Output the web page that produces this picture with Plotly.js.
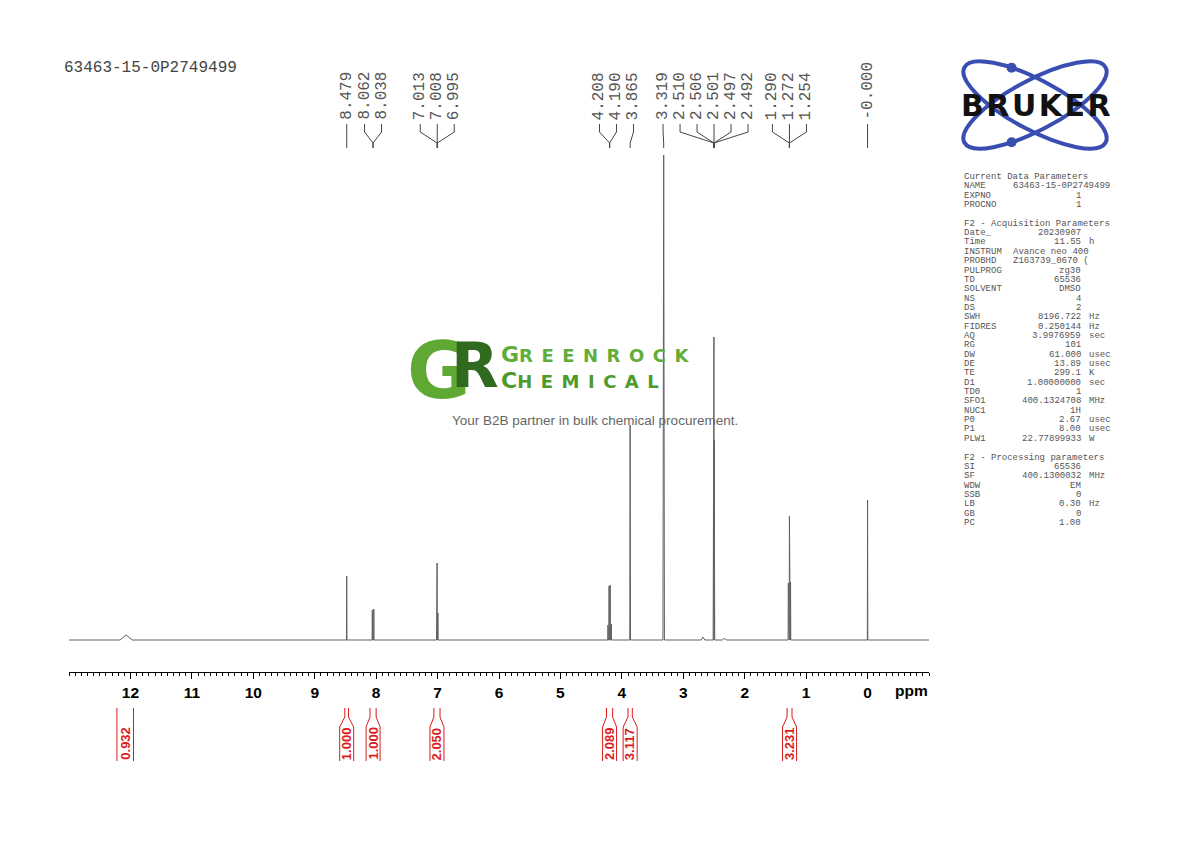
<!DOCTYPE html>
<html><head><meta charset="utf-8">
<script src="https://cdn.plot.ly/plotly-3.0.1.min.js"></script>
<style>html,body{margin:0;padding:0;background:#fff}</style>
</head><body>
<div id="chart" style="width:1190px;height:842px"></div>
<script>
// ---------------- DATA ----------------
const sampleName = "63463-15-0P2749499";

// spectrum lines (ppm), heights (arbitrary intensity), half base widths (ppm)
const peakPpm       = [12.07, 8.479, 8.062, 8.038, 7.013, 7.008, 6.995, 4.226, 4.208, 4.190, 4.172, 3.865, 3.319, 2.68, 2.510, 2.506, 2.501, 2.497, 2.492, 2.33, 1.290, 1.272, 1.254, 0.000];
const peakHeight    = [5,     64,    30,    31,    45,    77,    27,    15,    54,    55,    16,    215,   485,   3,    100,   200,   303,   200,   100,   2,    57,    124,   58,    140];
const peakHalfWidth = [0.10,  0.004, 0.004, 0.004, 0.004, 0.004, 0.004, 0.004, 0.004, 0.004, 0.004, 0.006, 0.012, 0.03, 0.004, 0.004, 0.004, 0.004, 0.004, 0.03, 0.004, 0.004, 0.004, 0.004];

// peak picking labels
const peakLabels = ["8.479","8.062","8.038","7.013","7.008","6.995","4.208","4.190","3.865","3.319","2.510","2.506","2.501","2.497","2.492","1.290","1.272","1.254","-0.000"];
const peakLabelGroups = [0,1,1,2,2,2,3,3,4,5,6,6,6,6,6,7,7,7,8];

// integrals
const integralFrom  = [12.22, 8.51, 8.10, 7.06, 4.25, 3.90, 1.31];
const integralTo    = [11.95, 8.45, 8.00, 6.96, 4.15, 3.83, 1.23];
const integralValue = ["0.932","1.000","1.000","2.050","2.089","3.117","3.231"];

// axis ticks
const tickValues = [12,11,10,9,8,7,6,5,4,3,2,1,0];
const tickLabels = ["12","11","10","9","8","7","6","5","4","3","2","1","0"];
const axisUnit = "ppm";

// parameter block
const paramTitle1  = "Current Data Parameters";
const paramKeys1   = ["NAME","EXPNO","PROCNO"];
const paramValues1 = ["63463-15-0P2749499","1","1"];
const paramUnits1  = ["","",""];
const paramTitle2  = "F2 - Acquisition Parameters";
const paramKeys2   = ["Date_","Time","INSTRUM","PROBHD","PULPROG","TD","SOLVENT","NS","DS","SWH","FIDRES","AQ","RG","DW","DE","TE","D1","TD0","SFO1","NUC1","P0","P1","PLW1"];
const paramValues2 = ["20230907","11.55","Avance neo 400","Z163739_0670 (","zg30","65536","DMSO","4","2","8196.722","0.250144","3.9976959","101","61.000","13.89","299.1","1.00000000","1","400.1324708","1H","2.67","8.00","22.77899933"];
const paramUnits2  = ["","h","","","","","","","","Hz","Hz","sec","","usec","usec","K","sec","","MHz","","usec","usec","W"];
const paramTitle3  = "F2 - Processing parameters";
const paramKeys3   = ["SI","SF","WDW","SSB","LB","GB","PC"];
const paramValues3 = ["65536","400.1300032","EM","0","0.30","0","1.00"];
const paramUnits3  = ["","MHz","","","Hz","",""];

const brandName = "BRUKER";
const wmMark = ["G","R"];
const wmLine1 = ["G","REENROCK"];
const wmLine2 = ["C","HEMICAL"];
const wmTagline = "Your B2B partner in bulk chemical procurement.";

// ---------------- LAYOUT HELPERS ----------------
const W = 1190, H = 842;
const PL = 69, PR = 929, PT = 150, PB = 672;
const xRange = [13, -1];
const ppmPerPx = (xRange[0] - xRange[1]) / (PR - PL);
const px2x = px => (px - PL) / (PR - PL);
const py2y = py => (PB - py) / (PB - PT);

// ---------------- SPECTRUM TRACE ----------------
const order = peakPpm.map((p, i) => i).sort((a, b) => peakPpm[b] - peakPpm[a]);
const specX = [xRange[0]], specY = [0];
order.forEach(i => {
  const p = peakPpm[i], h = peakHeight[i], w = peakHalfWidth[i];
  specX.push(p + w, p, p - w);
  specY.push(0, h, 0);
});
specX.push(xRange[1]); specY.push(0);

const trace = {
  x: specX, y: specY, type: 'scatter', mode: 'lines',
  line: {color: '#606060', width: 1}, hoverinfo: 'skip', showlegend: false
};

const shapes = [];
const annotations = [];

// ---------------- PEAK LABELS ----------------
const labelPpm = peakLabels.map(s => parseFloat(s));
const gap = 17 * ppmPerPx;
let clusters = [];
labelPpm.forEach((p, i) => {
  clusters.push({sum: p, n: 1, first: i});
  while (clusters.length > 1) {
    const b = clusters[clusters.length - 1], a = clusters[clusters.length - 2];
    const aRight = a.sum / a.n - (a.n - 1) / 2 * gap;
    const bLeft = b.sum / b.n + (b.n - 1) / 2 * gap;
    if (aRight - bLeft < gap) {
      clusters.splice(clusters.length - 2, 2, {sum: a.sum + b.sum, n: a.n + b.n, first: a.first});
    } else break;
  }
});
const labelPos = [];
clusters.forEach(c => {
  const ctr = c.sum / c.n;
  for (let k = 0; k < c.n; k++) labelPos[c.first + k] = ctr + ((c.n - 1) / 2 - k) * gap;
});
const groupCenter = {};
peakLabelGroups.forEach((g, i) => { (groupCenter[g] = groupCenter[g] || []).push(labelPpm[i]); });
Object.keys(groupCenter).forEach(g => { const a = groupCenter[g]; groupCenter[g] = a.reduce((s, v) => s + v, 0) / a.length; });

const lineStyle = {color: '#444444', width: 1};
peakLabels.forEach((t, i) => {
  const lx = labelPos[i], gx = groupCenter[peakLabelGroups[i]];
  annotations.push({x: lx, xref: 'x', y: py2y(121), yref: 'paper', text: t, textangle: -90,
    xanchor: 'center', yanchor: 'bottom', showarrow: false, borderpad: 0,
    font: {family: 'Liberation Mono, Courier New, monospace', size: 16, color: '#555555'}});
  shapes.push({type: 'path', xref: 'x', yref: 'paper', line: lineStyle,
    path: `M${lx},${py2y(124)} L${lx},${py2y(132)} L${gx},${py2y(143)} L${gx},${py2y(148)}`});
});

// ---------------- INTEGRALS ----------------
const hb = 7 * ppmPerPx;
const red = '#dc1a1a';
integralValue.forEach((v, i) => {
  const a = integralFrom[i], b = integralTo[i], c = (a + b) / 2;
  let path;
  if ((a - b) / 2 >= hb) {
    path = `M${a},${py2y(708)} L${a},${py2y(761)} M${b},${py2y(708)} L${b},${py2y(761)}`;
  } else {
    path = `M${a},${py2y(708)} L${a},${py2y(717)} L${c + hb},${py2y(727)} L${c + hb},${py2y(761)}` +
           ` M${b},${py2y(708)} L${b},${py2y(717)} L${c - hb},${py2y(727)} L${c - hb},${py2y(761)}`;
  }
  shapes.push({type: 'path', xref: 'x', yref: 'paper', path, line: {color: red, width: 1}});
  annotations.push({x: c, xref: 'x', y: py2y(761), yref: 'paper', text: v, textangle: -90,
    xanchor: 'center', yanchor: 'bottom', showarrow: false, borderpad: 0,
    font: {family: 'Liberation Sans, Arial, sans-serif', size: 13, color: red, weight: 'bold'}});
});

// axis unit
annotations.push({x: -0.72, xref: 'x', y: py2y(690), yref: 'paper', text: axisUnit, showarrow: false,
  xanchor: 'center', yanchor: 'middle',
  font: {family: 'Liberation Sans, Arial', size: 15.5, color: '#000', weight: 'bold'}});

// title
annotations.push({x: px2x(62), xref: 'paper', y: py2y(68), yref: 'paper', text: sampleName, showarrow: false,
  xanchor: 'left', yanchor: 'middle', font: {family: 'Liberation Mono, Courier New, monospace', size: 16, color: '#444'}});

// ---------------- PARAMETER BLOCK ----------------
const mono9 = {family: 'Liberation Mono, Courier New, monospace', size: 9, color: '#555555'};
const lines = [];
function addSection(title, keys, vals, units) {
  lines.push({title});
  keys.forEach((k, i) => lines.push({k, v: vals[i], u: units[i]}));
}
addSection(paramTitle1, paramKeys1, paramValues1, paramUnits1); lines.push(null);
addSection(paramTitle2, paramKeys2, paramValues2, paramUnits2); lines.push(null);
addSection(paramTitle3, paramKeys3, paramValues3, paramUnits3);
const colX0 = 963, cw = 5.42;
lines.forEach((ln, i) => {
  if (!ln) return;
  const y = py2y(177 + i * 9.35);
  if (ln.title) {
    annotations.push({x: px2x(colX0), xref: 'paper', y, yref: 'paper', text: ln.title, showarrow: false,
      xanchor: 'left', yanchor: 'middle', font: mono9, borderpad: 0});
    return;
  }
  annotations.push({x: px2x(colX0), xref: 'paper', y, yref: 'paper', text: ln.k, showarrow: false,
    xanchor: 'left', yanchor: 'middle', font: mono9, borderpad: 0});
  if (ln.v.length <= 13) {
    annotations.push({x: px2x(colX0 + 22 * cw), xref: 'paper', y, yref: 'paper', text: ln.v, showarrow: false,
      xanchor: 'right', yanchor: 'middle', font: mono9, borderpad: 0});
  } else {
    annotations.push({x: px2x(colX0 + 9 * cw), xref: 'paper', y, yref: 'paper', text: ln.v, showarrow: false,
      xanchor: 'left', yanchor: 'middle', font: mono9, borderpad: 0});
  }
  if (ln.u) annotations.push({x: px2x(colX0 + 23 * cw), xref: 'paper', y, yref: 'paper', text: ln.u, showarrow: false,
    xanchor: 'left', yanchor: 'middle', font: mono9, borderpad: 0});
});

// ---------------- BRUKER LOGO ----------------
const brukerSvg = '<svg xmlns="http://www.w3.org/2000/svg" width="175" height="100" viewBox="0 0 175 100">' +
  '<g fill="none" stroke="#3a4db1" stroke-width="4">' +
  '<ellipse cx="85" cy="50" rx="80" ry="25" transform="rotate(28 85 50)"/>' +
  '<ellipse cx="85" cy="50" rx="80" ry="25" transform="rotate(-28 85 50)"/></g>' +
  '<circle cx="61.6" cy="12.7" r="5" fill="#3a4db1"/><circle cx="61.6" cy="87.3" r="5" fill="#3a4db1"/></svg>';
const images = [{
  source: 'data:image/svg+xml;charset=utf-8,' + encodeURIComponent(brukerSvg),
  xref: 'paper', yref: 'paper', x: px2x(950), y: py2y(55), sizex: 175 / (PR - PL), sizey: 100 / (PB - PT),
  xanchor: 'left', yanchor: 'top', sizing: 'stretch', layer: 'above'
}];
annotations.push({x: px2x(1037), xref: 'paper', y: py2y(106), yref: 'paper',
  text: `<span style="letter-spacing:2.5px">${brandName}</span>`, showarrow: false,
  xanchor: 'center', yanchor: 'middle', font: {family: 'DejaVu Sans, Arial', size: 30, color: '#111', weight: 'bold'}});

// ---------------- GREENROCK WATERMARK ----------------
annotations.push({x: px2x(406), xref: 'paper', y: py2y(371), yref: 'paper',
  text: `<span style="font-size:78px;fill:#5fa834;letter-spacing:-20px">${wmMark[0]}</span><span style="font-size:62px;fill:#2f6a1f;baseline-shift:11px">${wmMark[1]}</span>`,
  showarrow: false, xanchor: 'left', yanchor: 'middle', borderpad: 0,
  font: {family: 'DejaVu Sans, Arial', size: 62, color: '#2f6a1f', weight: 'bold'}});
annotations.push({x: px2x(500), xref: 'paper', y: py2y(354.4), yref: 'paper',
  text: `<span style="font-size:22px">${wmLine1[0]}</span><span style="letter-spacing:8.5px">${wmLine1[1]}</span>`,
  showarrow: false, xanchor: 'left', yanchor: 'middle', borderpad: 0,
  font: {family: 'DejaVu Sans, Arial', size: 18, color: '#62ad3a', weight: 'bold'}});
annotations.push({x: px2x(500), xref: 'paper', y: py2y(380.6), yref: 'paper',
  text: `<span style="font-size:22px">${wmLine2[0]}</span><span style="letter-spacing:8.5px">${wmLine2[1]}</span>`,
  showarrow: false, xanchor: 'left', yanchor: 'middle', borderpad: 0,
  font: {family: 'DejaVu Sans, Arial', size: 18, color: '#4f9a2c', weight: 'bold'}});
annotations.push({x: px2x(594.5), xref: 'paper', y: py2y(421), yref: 'paper', text: wmTagline, showarrow: false,
  xanchor: 'center', yanchor: 'middle', font: {family: 'Liberation Sans, Arial', size: 13.5, color: '#666'}});

// ---------------- LAYOUT ----------------
const layout = {
  width: W, height: H, autosize: false,
  margin: {l: PL, r: W - PR, t: PT, b: H - PB, pad: 0},
  paper_bgcolor: '#fff', plot_bgcolor: 'rgba(0,0,0,0)',
  showlegend: false,
  xaxis: {
    range: xRange, autorange: false, showgrid: false, zeroline: false,
    showline: true, linecolor: '#000', linewidth: 1, mirror: false,
    ticks: 'outside', ticklen: 6, tickwidth: 1, tickcolor: '#000',
    tickmode: 'array', tickvals: tickValues, ticktext: tickLabels,
    tickfont: {family: 'Liberation Sans, Arial', size: 15.5, color: '#000', weight: 'bold'},
    minor: {tickmode: 'linear', tick0: 0, dtick: 0.1, ticks: 'outside', ticklen: 2.5, tickwidth: 1, tickcolor: '#000', showgrid: false},
    fixedrange: true
  },
  yaxis: {range: [-(PB - 640), 490], autorange: false, visible: false, showgrid: false, zeroline: false, fixedrange: true},
  shapes, annotations, images
};

Plotly.newPlot('chart', [trace], layout, {staticPlot: true, displayModeBar: false});
</script>
</body></html>
